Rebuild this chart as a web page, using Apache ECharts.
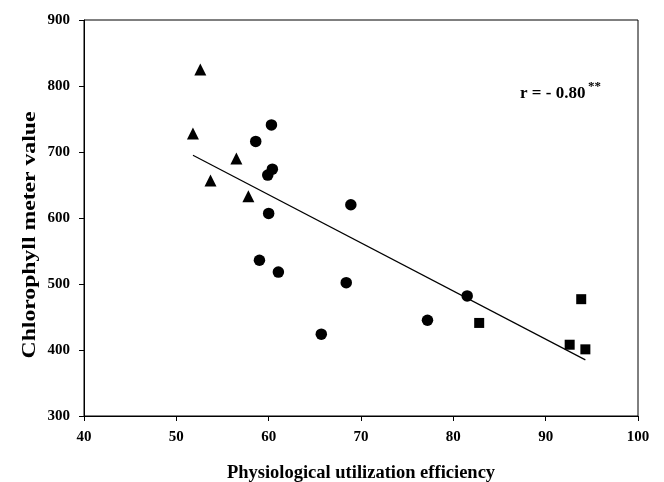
<!DOCTYPE html>
<html>
<head>
<meta charset="utf-8">
<script src="https://cdn.jsdelivr.net/npm/echarts@6/dist/echarts.min.js"></script>
<style>html,body{margin:0;padding:0;background:#fff;}#c{width:664px;height:482px;}</style>
</head>
<body>
<div id="c"></div>
<script>
// Data
const triangleX = [52.6, 51.8, 56.5, 53.7, 57.8];
const triangleY = [825, 728, 690, 657, 633];
const circleX = [60.3, 58.6, 60.4, 59.9, 68.9, 60.0, 59.0, 61.05, 68.4, 65.7, 77.2, 81.5];
const circleY = [741, 716, 674, 665, 620, 607, 536, 518, 502, 424, 445, 482];
const squareX = [82.8, 93.85, 92.6, 94.3];
const squareY = [441, 477, 408, 401];
const fitX = [51.8, 94.3];
const fitY = [695, 385];
const xTicks = [40, 50, 60, 70, 80, 90, 100];
const yTicks = [300, 400, 500, 600, 700, 800, 900];
const xTitle = 'Physiological utilization efficiency';
const yTitle = 'Chlorophyll meter value';
const rText = 'r = - 0.80';
const rStars = '**';

const zip = (a, b) => a.map((v, i) => [v, b[i]]);
const FONT = '"Liberation Serif", "Times New Roman", serif';

const chart = echarts.init(document.getElementById('c'), null, {renderer: 'canvas'});
chart.setOption({
  backgroundColor: '#fff',
  animation: false,
  grid: {left: 84, right: 26, top: 20, bottom: 66, show: true, borderColor: '#000', borderWidth: 1,
         containLabel: false, outerBoundsMode: 'none'},
  xAxis: {
    type: 'value', min: xTicks[0], max: xTicks[xTicks.length - 1], interval: 10,
    name: xTitle, nameLocation: 'middle', nameGap: 48,
    nameTextStyle: {fontFamily: FONT, fontWeight: 'bold', fontSize: 18.5, color: '#000'},
    axisLine: {lineStyle: {color: '#000', width: 1}},
    axisTick: {show: true, length: 5, inside: false, lineStyle: {color: '#000'}},
    axisLabel: {fontFamily: FONT, fontWeight: 'bold', fontSize: 15, color: '#000', margin: 14},
    splitLine: {show: false}
  },
  yAxis: {
    type: 'value', min: yTicks[0], max: yTicks[yTicks.length - 1], interval: 100,
    axisLine: {show: true, lineStyle: {color: '#000', width: 1}},
    axisTick: {show: true, length: 5, inside: false, lineStyle: {color: '#000'}},
    axisLabel: {fontFamily: FONT, fontWeight: 'bold', fontSize: 15, color: '#000', margin: 14},
    splitLine: {show: false}
  },
  series: [
    {type: 'scatter', data: zip(triangleX, triangleY), symbol: 'triangle', symbolSize: 12,
     itemStyle: {color: '#000', opacity: 1}},
    {type: 'scatter', data: zip(circleX, circleY), symbol: 'circle', symbolSize: 11.5,
     itemStyle: {color: '#000', opacity: 1}},
    {type: 'scatter', data: zip(squareX, squareY), symbol: 'rect', symbolSize: 10,
     itemStyle: {color: '#000', opacity: 1}},
    {type: 'line', data: zip(fitX, fitY), symbol: 'none', lineStyle: {color: '#000', width: 1.2}}
  ],
  graphic: [
    {
      type: 'text', x: 30, y: 235, rotation: Math.PI / 2, scaleX: 1.28,
      style: {text: yTitle, fontFamily: FONT, fontWeight: 'bold', fontSize: 18.5, fill: '#000',
              align: 'center', verticalAlign: 'middle'}
    },
    {
      type: 'text', x: 520, y: 94,
      style: {text: rText, fontFamily: FONT, fontWeight: 'bold', fontSize: 17, fill: '#000',
              align: 'left', verticalAlign: 'middle'}
    },
    {
      type: 'text', x: 588, y: 87,
      style: {text: rStars, fontFamily: FONT, fontWeight: 'bold', fontSize: 13, fill: '#000',
              align: 'left', verticalAlign: 'middle'}
    }
  ]
});
</script>
</body>
</html>
